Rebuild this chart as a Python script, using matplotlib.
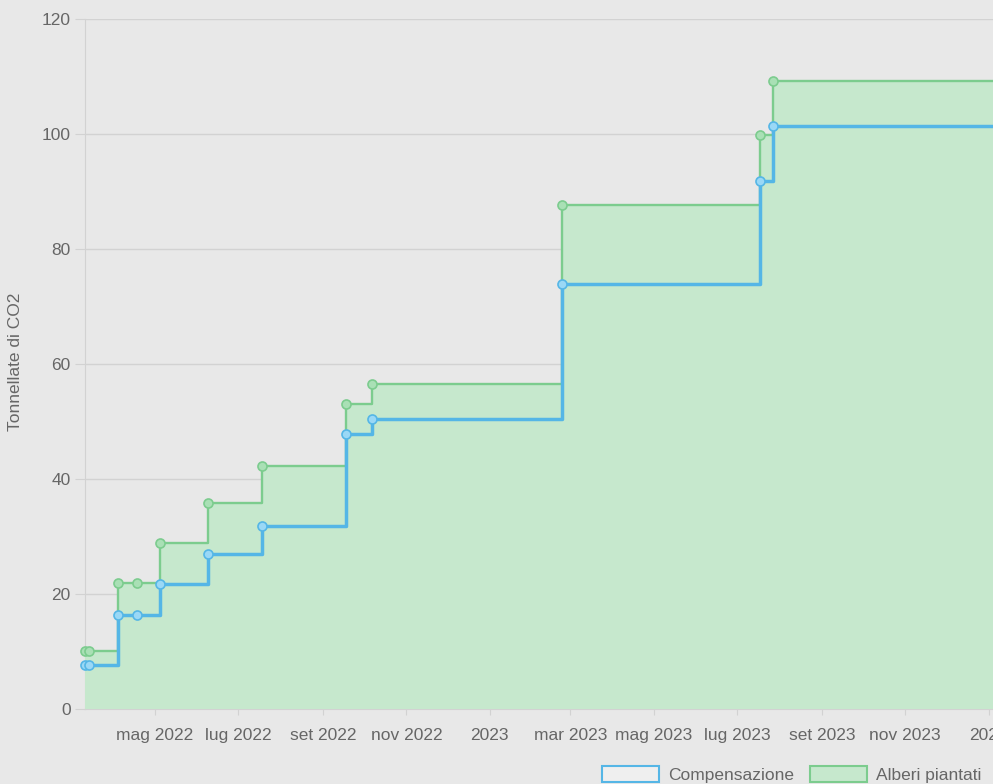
import numpy as np
import pandas as pd
import matplotlib
matplotlib.use('Agg')
import matplotlib.pyplot as plt
from matplotlib.patches import Patch

plt.rcParams['font.family'] = ['Liberation Sans', 'DejaVu Sans']

# data (last date only carries the line on past the crop)
dates = pd.to_datetime([
    '2022-03-11', '2022-03-14', '2022-04-04', '2022-04-18', '2022-05-05',
    '2022-06-09', '2022-07-18', '2022-09-18', '2022-10-07', '2023-02-23',
    '2023-07-18', '2023-07-27', '2024-02-15'])
alberi = [10.1, 10.1, 21.9, 21.9, 28.9, 35.8, 42.3, 53.0, 56.5, 87.7, 99.8, 109.2, 109.2]
compensazione = [7.6, 7.6, 16.4, 16.4, 21.8, 27.0, 31.8, 47.8, 50.4, 73.9, 91.8, 101.4, 101.4]

tick_dates = pd.to_datetime([
    '2022-05-01', '2022-07-01', '2022-09-01', '2022-11-01', '2023-01-01',
    '2023-03-01', '2023-05-01', '2023-07-01', '2023-09-01', '2023-11-01',
    '2024-01-01'])
tick_labels = ['mag 2022', 'lug 2022', 'set 2022', 'nov 2022', '2023',
               'mar 2023', 'mag 2023', 'lug 2023', 'set 2023', 'nov 2023', '2024']

bg = '#e8e8e8'
green_line = '#7ccc8e'
green_fill = '#c6e8cd'
green_mark = '#a9e0b5'
blue_line = '#55b6e6'
blue_mark = '#9ad8f6'
text_col = '#666666'
grid_col = '#d2d2d2'

fig = plt.figure(figsize=(9.93, 7.84), dpi=100, facecolor=bg)
ax = fig.add_axes([0.0859, 0.0957, 0.9715, 0.8801])
ax.set_facecolor(bg)

ax.fill_between(dates, alberi, step='post', color=green_fill, zorder=2, linewidth=0)
ax.step(dates, alberi, where='post', color=green_line, linewidth=1.7, zorder=3)
ax.plot(dates, alberi, 'o', markersize=6.5, markerfacecolor=green_mark,
        markeredgecolor=green_line, markeredgewidth=1.2, zorder=4, clip_on=False)
ax.step(dates, compensazione, where='post', color=blue_line, linewidth=2.5, zorder=5)
ax.plot(dates, compensazione, 'o', markersize=6.5, markerfacecolor=blue_mark,
        markeredgecolor=blue_line, markeredgewidth=1.2, zorder=6, clip_on=False)

ax.set_xlim(dates[0], dates[-1])
ax.set_ylim(0, 120)
ax.set_yticks(np.arange(0, 121, 20))
ax.set_xticks(tick_dates)
ax.set_xticklabels(tick_labels)

ax.grid(axis='y', color=grid_col, linewidth=1, zorder=1)
ax.set_axisbelow(True)
for side in ['top', 'right']:
    ax.spines[side].set_visible(False)
for side in ['left', 'bottom']:
    ax.spines[side].set_color(grid_col)
    ax.spines[side].set_zorder(1)
ax.tick_params(axis='y', length=7, color=grid_col, labelsize=12.5, labelcolor=text_col, pad=3.5)
ax.tick_params(axis='x', length=4, color=grid_col, labelsize=12.5, labelcolor=text_col, pad=10)

fig.text(0.016, 1 - 362 / 784, 'Tonnellate di CO2', rotation=90, ha='center', va='center',
         fontsize=12.5, color=text_col)

handles = [Patch(facecolor='#efefef', edgecolor=blue_line, linewidth=1.5),
           Patch(facecolor=green_fill, edgecolor=green_line, linewidth=1.5)]
fig.legend(handles, ['Compensazione', 'Alberi piantati'], loc='center',
           bbox_to_anchor=(0.797, 0.012), ncol=2, frameon=False, fontsize=12.5,
           labelcolor=text_col, handlelength=3.3, handleheight=1.0,
           handletextpad=0.5, columnspacing=0.9)

fig.savefig('out.png', dpi=100, facecolor=bg)
